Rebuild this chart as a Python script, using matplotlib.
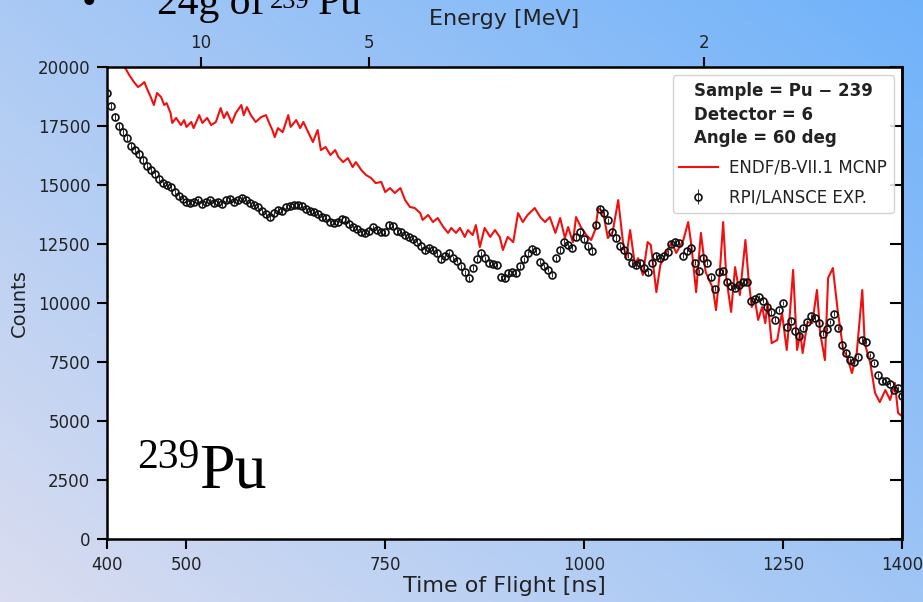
#!/usr/bin/env python3
"""
Pu-239 time-of-flight spectrum: MCNP simulation vs. measured counts
"""

import numpy as np
import matplotlib.pyplot as plt
from matplotlib.legend_handler import HandlerErrorbar

# Medida RPI/LANSCE, um ponto a cada 5 ns (400 .. 1400 ns)
exp_tof = np.arange(400, 1401, 5)
exp_counts = [
    18900, 18350, 17900, 17500, 17250, 17000, 16650, 16500, 16300, 16050,
    15800, 15650, 15450, 15250, 15100, 15000, 14900, 14700, 14550, 14400,
    14300, 14250, 14300, 14350, 14200, 14300, 14350, 14250, 14300, 14200,
    14350, 14400, 14300, 14350, 14450, 14350, 14250, 14150, 14050, 13900,
    13750, 13650, 13800, 13950, 13900, 14050, 14100, 14150, 14150, 14100,
    14000, 13900, 13850, 13750, 13650, 13600, 13450, 13400, 13450, 13550,
    13500, 13350, 13200, 13150, 13000, 12950, 13050, 13200, 13100, 13000,
    13000, 13300, 13250, 13050, 13000, 12900, 12800, 12700, 12600, 12400,
    12250, 12350, 12250, 12100, 11850, 12000, 12100, 11900, 11800, 11550,
    11300, 11050, 11500, 11850, 12100, 11900, 11700, 11650, 11600, 11100,
    11050, 11250, 11300, 11250, 11550, 11850, 12100, 12300, 12200, 11750,
    11550, 11400, 11200, 11900, 12250, 12600, 12450, 12350, 12800, 13000,
    12700, 12400, 12200, 13300, 14000, 13800, 13500, 13000, 12750, 12400,
    12250, 12000, 11700, 11600, 11700, 11500, 11300, 11700, 12000, 11900,
    12000, 12150, 12500, 12600, 12550, 12000, 12200, 12350, 11700, 11350,
    11900, 11700, 11100, 10600, 11300, 11350, 10900, 10700, 10650, 10750,
    10900, 10900, 10100, 10150, 10250, 10100, 9850, 9600, 9300, 9700,
    10000, 9000, 9250, 8800, 8600, 8950, 9200, 9450, 9350, 9150,
    8700, 8900, 9200, 9550, 8950, 8200, 7900, 7600, 7500, 7700,
    8450, 8350, 7800, 7450, 6950, 6700, 6700, 6550, 6300, 6400,
    6050,
]

# Simulacao ENDF/B-VII.1 (MCNP)
mcnp_tof = [
    400, 406, 412, 418, 424, 428, 434, 439, 443, 447, 450, 455, 459, 463,
    468, 472, 475, 480, 482, 487, 493, 497, 500, 506, 509, 516, 520, 526,
    531, 537, 543, 547, 551, 557, 562, 569, 572, 576, 581, 587, 594, 600,
    604, 608, 611, 615, 621, 628, 631, 638, 643, 647, 653, 659, 665, 669,
    675, 681, 687, 691, 697, 703, 709, 713, 720, 726, 732, 738, 745, 750,
    756, 762, 769, 775, 781, 787, 794, 797, 804, 810, 816, 823, 829, 833,
    839, 844, 850, 854, 860, 864, 869, 875, 882, 888, 894, 898, 904, 911,
    917, 923, 929, 938, 945, 951, 957, 964, 970, 976, 980, 986, 990, 996,
    1003, 1009, 1014, 1018, 1024, 1030, 1036, 1043, 1049, 1053, 1058, 1064,
    1068, 1074, 1080, 1084, 1091, 1096, 1102, 1110, 1116, 1125, 1131, 1135,
    1141, 1147, 1153, 1162, 1166, 1171, 1175, 1179, 1185, 1190, 1196, 1203,
    1207, 1211, 1215, 1219, 1224, 1228, 1231, 1236, 1243, 1249, 1255, 1259,
    1263, 1268, 1272, 1275, 1281, 1287, 1293, 1297, 1303, 1307, 1313, 1319,
    1326, 1331, 1337, 1343, 1350, 1353, 1360, 1366, 1372, 1379, 1385, 1391,
    1395, 1400,
]
mcnp_counts = [
    21200, 20900, 20500, 20150, 19900, 19660, 19360, 19150, 19240, 19360,
    19110, 18730, 18390, 18900, 18730, 18390, 18470, 18050, 17630, 17840,
    17540, 17750, 17460, 17670, 17410, 17960, 17630, 17840, 17540, 17670,
    18260, 17840, 18090, 17630, 18050, 18390, 17960, 18300, 17960, 17670,
    17880, 17960, 17630, 17330, 17030, 17410, 17240, 17960, 17460, 17750,
    17410, 17670, 17240, 16820, 17330, 16480, 16610, 16270, 16480, 16190,
    15970, 16140, 15760, 15970, 15630, 15420, 15300, 15080, 15130, 14700,
    14870, 14660, 14870, 14360, 14070, 14025, 13810, 13520, 13730, 13430,
    13600, 13220, 12970, 13180, 12970, 13180, 12800, 13090, 12880, 13300,
    12370, 13180, 12800, 13090, 12800, 12245, 12800, 12580, 13810, 13430,
    13730, 14025, 13640, 13430, 13640, 12970, 13600, 12750, 13220, 12580,
    13640, 13220, 12880, 12670, 13100, 14025, 13850, 12750, 13010, 14360,
    12580, 11900, 13090, 11610, 11900, 11190, 12580, 12460, 10460, 11610,
    12030, 12580, 12120, 12670, 13430, 12460, 10460, 12970, 11310, 10630,
    9700, 11400, 13430, 11060, 9620, 11520, 10340, 12670, 11000, 9830,
    10130, 9280, 9830, 9150, 10040, 8300, 8430, 9580, 8010, 9580,
    11400, 8010, 8730, 7880, 9190, 9150, 10550, 8730, 7580, 11060,
    11480, 9700, 8010, 7710, 7030, 7880, 10550, 8300, 7460, 6190,
    5800, 6310, 5890, 6610, 5340, 5200,
]

# Textos do grafico
legend_title = "Sample = Pu \u2212 239\nDetector = 6\nAngle = 60 deg"
mcnp_label = "ENDF/B-VII.1 MCNP"
exp_label = "RPI/LANSCE EXP."
tof_ticks = [400, 500, 750, 1000, 1250, 1400]
count_ticks = [0, 2500, 5000, 7500, 10000, 12500, 15000, 17500, 20000]
energy_ticks = [10, 5, 2]

FLIGHT_PATH = 22.48  # m
TXT = "#222222"
W, H = 923, 602
SERIF = "Liberation Serif"


def tof_from_energy(e_mev, path=FLIGHT_PATH):
    """Tempo de voo (ns) de um neutron com energia e_mev (relativistico)"""
    gamma = 1.0 + np.asarray(e_mev, dtype=float) / 939.565
    beta = np.sqrt(1.0 - 1.0 / gamma ** 2)
    return path / (beta * 0.299792458)


def px_text(fig, x, y, s, size, **kw):
    """Texto posicionado em pixels (origem no canto superior esquerdo)"""
    return fig.text(x / W, 1 - y / H, s, fontsize=size, family=SERIF,
                    color="black", va="baseline", ha="left", **kw)


def draw_background(fig):
    """Fundo em degrade, lilas embaixo a esquerda e azul em cima a direita"""
    bg = fig.add_axes([0, 0, 1, 1], zorder=-10)
    ny, nx = 120, 180
    xx, yy = np.meshgrid(np.linspace(0, 1, nx), np.linspace(0, 1, ny))
    u = np.clip((xx * 1.1 + yy * 0.9) / 2.0, 0, 1)[..., None]
    c0 = np.array([218, 221, 240]) / 255.0
    c1 = np.array([112, 178, 250]) / 255.0
    img = c0 * (1 - u) + c1 * u
    bg.imshow(img, origin="lower", extent=[0, 1, 0, 1], aspect="auto")
    bg.axis("off")


def main():
    fig = plt.figure(figsize=(W / 100, H / 100), dpi=100)
    draw_background(fig)

    ax = fig.add_axes([0.1159, 0.1047, 0.8614, 0.784])
    ax.set_facecolor("white")

    ax.plot(mcnp_tof, mcnp_counts, color="#f01010", lw=1.5,
            label=mcnp_label, zorder=2)
    exp = ax.errorbar(exp_tof, exp_counts, yerr=np.sqrt(exp_counts),
                      fmt="o", ms=5, mfc="none", mec="#111111", mew=1.2,
                      ecolor="#111111", elinewidth=0.6, label=exp_label,
                      zorder=3)

    ax.set_xlim(400, 1400)
    ax.set_ylim(0, 20000)
    ax.set_xticks(tof_ticks)
    ax.set_yticks(count_ticks)
    ax.set_xlabel("Time of Flight [ns]", fontsize=16, color=TXT, labelpad=2)
    ax.set_ylabel("Counts", fontsize=14, color=TXT, labelpad=6)
    ax.tick_params(axis="both", labelsize=12, labelcolor=TXT, length=7,
                   width=1.5, pad=5, direction="out")
    for sp in ax.spines.values():
        sp.set_linewidth(1.8)
        sp.set_color("black")

    # ticks para dentro no lado direito
    right = ax.secondary_yaxis("right")
    right.set_yticks(count_ticks)
    right.tick_params(direction="in", length=9, width=1.5, labelright=False)
    right.spines["right"].set_linewidth(1.8)

    # eixo superior em energia
    top = ax.twiny()
    top.set_xlim(ax.get_xlim())
    top.set_xticks(tof_from_energy(energy_ticks))
    top.set_xticklabels([str(e) for e in energy_ticks])
    top.set_xlabel("Energy [MeV]", fontsize=16, color=TXT, labelpad=6)
    top.tick_params(axis="x", labelsize=12, labelcolor=TXT, length=7,
                    width=1.5, pad=4)
    for sp in top.spines.values():
        sp.set_visible(False)

    leg = ax.legend(handles=[ax.get_lines()[0], exp], loc="upper right",
                    fontsize=12, title=legend_title,
                    title_fontproperties={"weight": "bold", "size": 12},
                    handler_map={type(exp): HandlerErrorbar(xerr_size=0.0,
                                                            yerr_size=0.45)},
                    framealpha=0.85, edgecolor="#cccccc", labelspacing=0.7,
                    borderpad=0.4, handlelength=2.3, handletextpad=0.7)
    leg.get_title().set_multialignment("left")
    leg.get_title().set_linespacing(1.4)
    leg.get_title().set_color(TXT)
    for t in leg.get_texts():
        t.set_color(TXT)

    # rotulo do isotopo dentro do grafico
    px_text(fig, 137, 468, "239", 30)
    px_text(fig, 199, 487, "Pu", 46)

    # cabecalho do slide, cortado na borda de cima
    px_text(fig, 82, 14, "\u2022", 30)
    px_text(fig, 157, 14, "24g of", 30)
    px_text(fig, 270, 8, "239", 19)
    px_text(fig, 318, 14, "Pu", 30)

    fig.savefig("out.png", dpi=100)


if __name__ == "__main__":
    main()
